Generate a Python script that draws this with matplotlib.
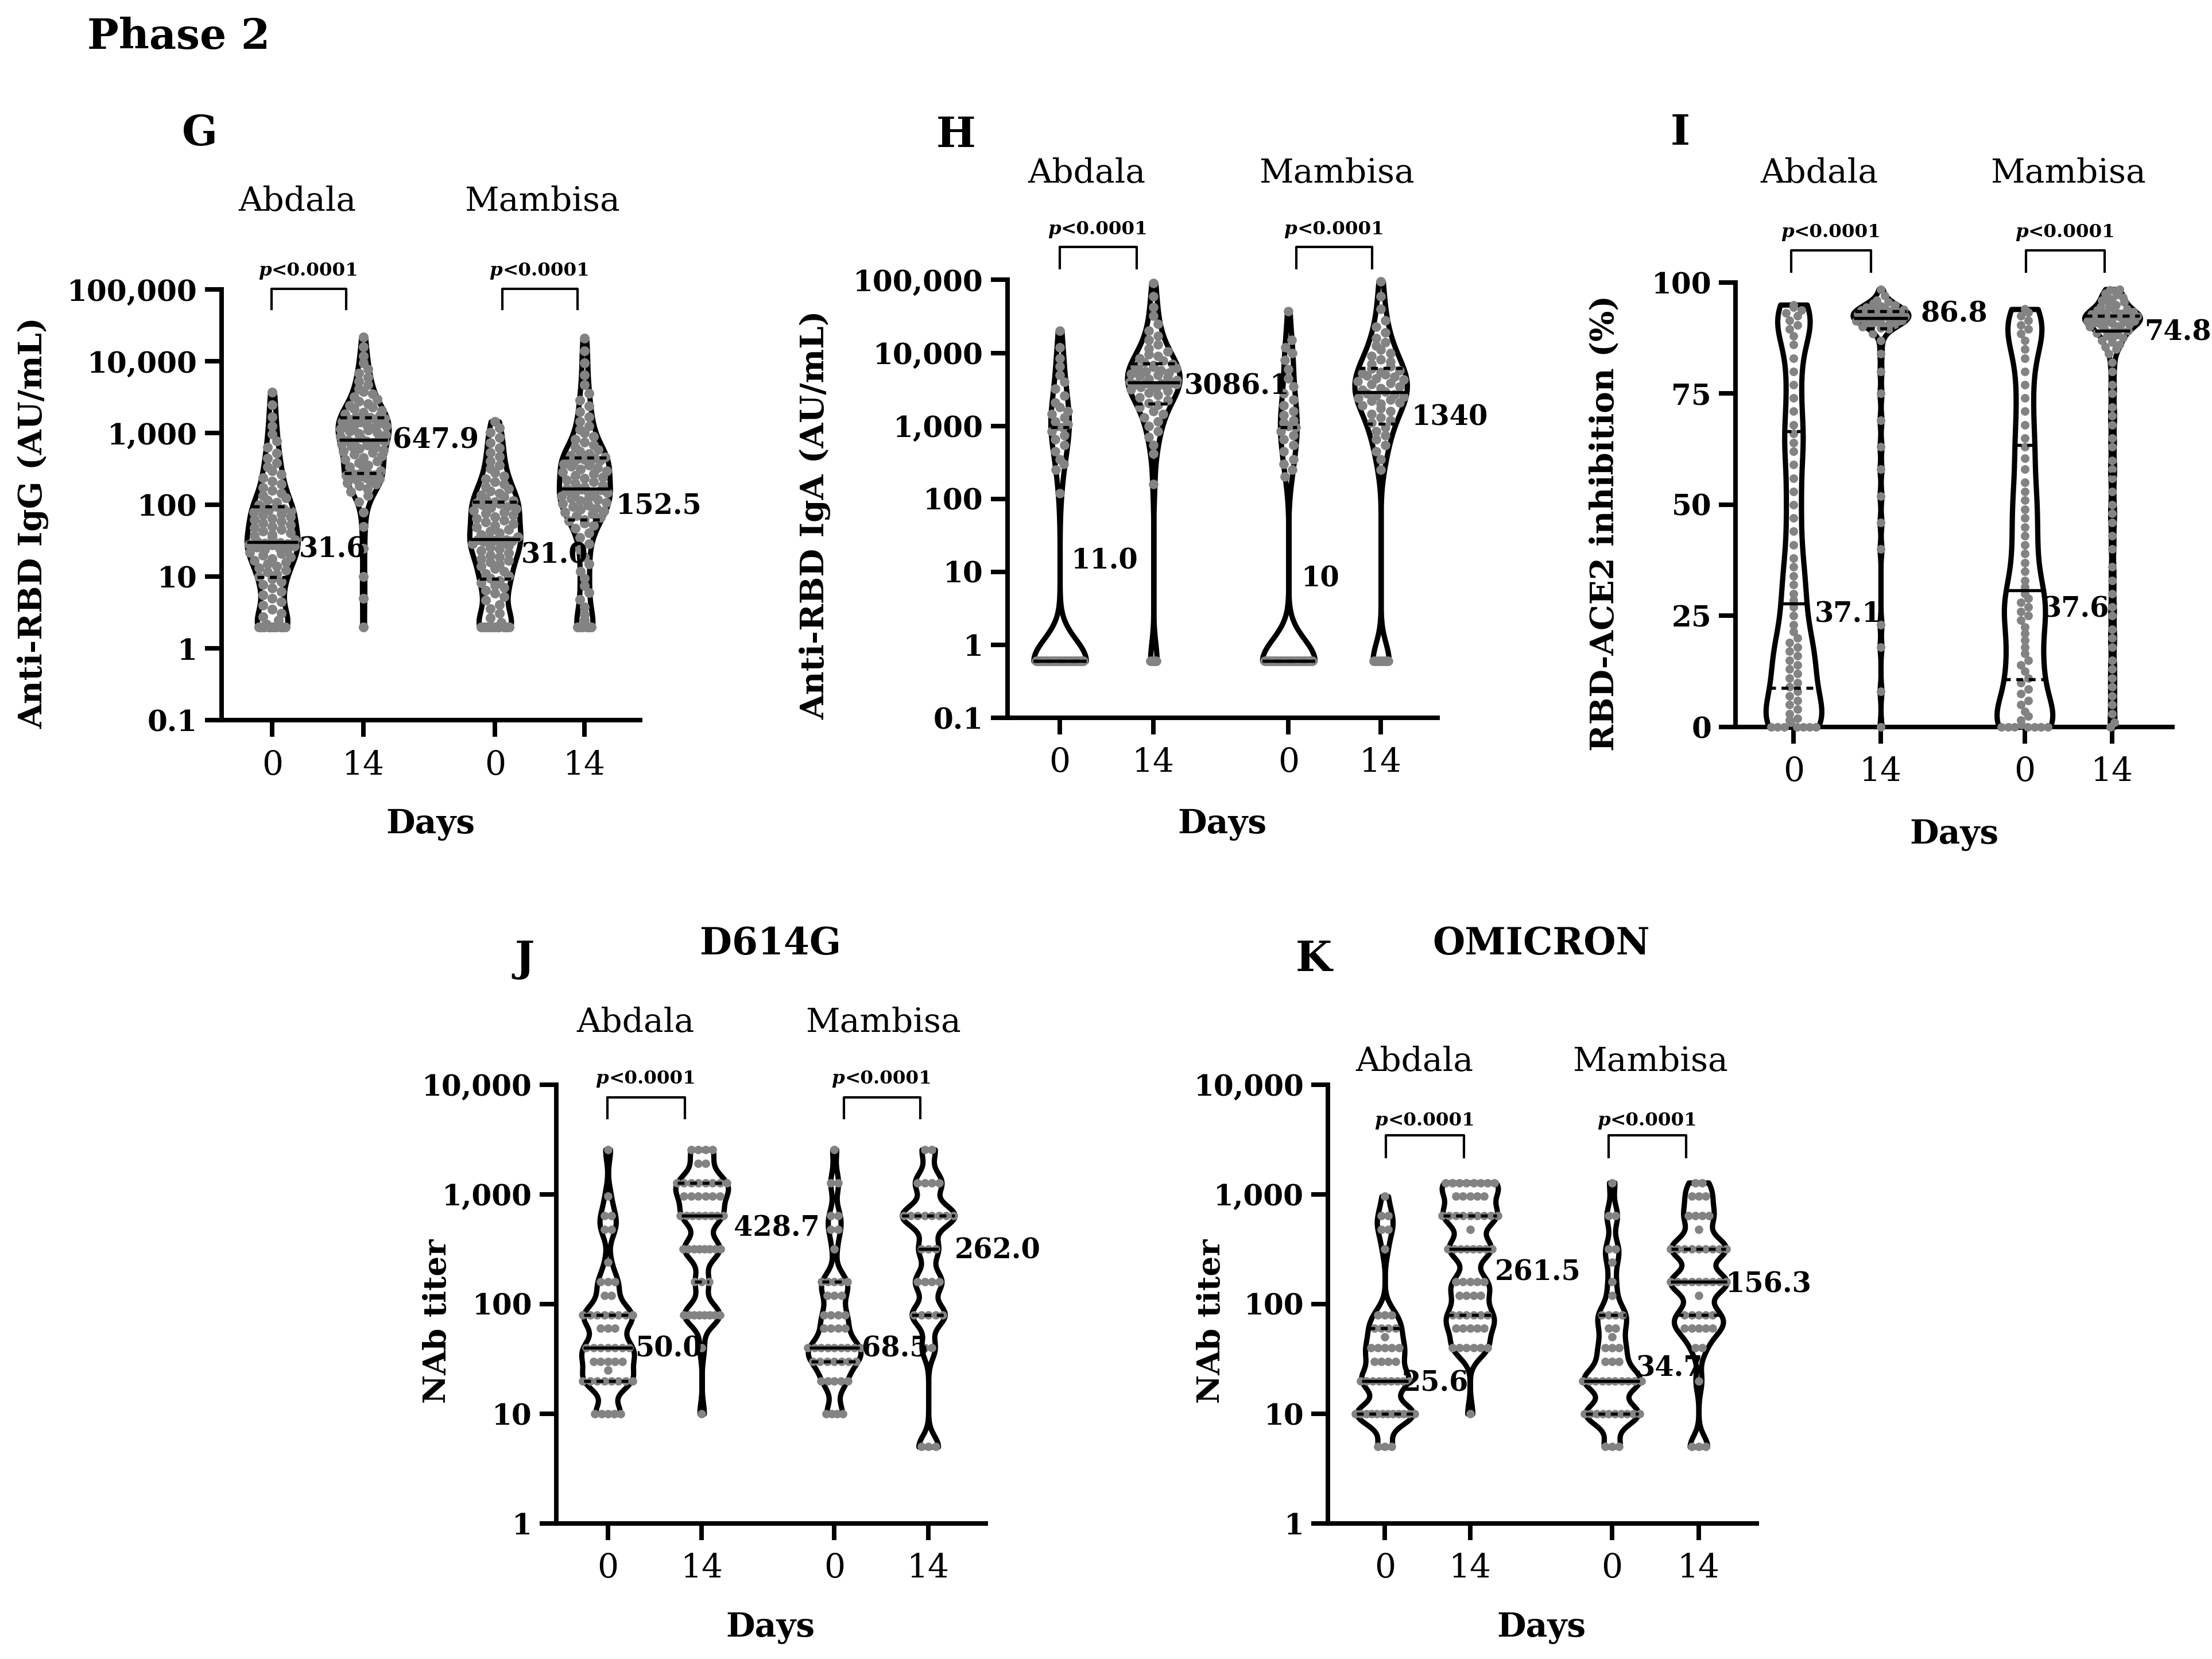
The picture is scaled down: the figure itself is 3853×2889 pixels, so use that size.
import numpy as np
import matplotlib
matplotlib.use("Agg")
import matplotlib.pyplot as plt

plt.rcParams['font.family'] = ['DejaVu Serif']

# ---------------- data ----------------
group_names = ["Abdala", "Mambisa"]
day_labels = ["0", "14", "0", "14"]

# G: Anti-RBD IgG (AU/mL)
g_ab0 = [2, 2, 2, 2, 2, 2, 2, 2, 2, 2, 2.2, 2.5, 2.8, 3.1, 3.5, 4, 4.5, 5, 5.6, 6.2, 7, 7.8, 8.6, 9.4,
         10, 10.8, 11.6, 12.4, 13.2, 14, 15, 16, 17, 18, 19, 20, 21, 22, 23, 24, 25, 26, 26.8, 27.6, 28.4, 29, 29.5, 30,
         31, 33, 35, 37, 39, 41, 43, 45.5, 48, 50.5, 53, 56, 59, 62, 65, 68.5, 72, 75.5, 79, 82.5, 86, 89, 92, 95,
         100, 108, 116, 125, 135, 147, 160, 175, 195, 215, 240, 270, 300, 340, 390, 450, 530, 640, 780, 980, 1250, 1700, 2500, 3700]
g_ab14 = [2, 5, 10, 25, 50, 80, 110, 135, 155, 170, 185, 195, 205, 215, 225, 232, 239, 245, 250, 255, 259, 263, 266, 269,
          280, 300, 320, 340, 360, 385, 410, 435, 460, 485, 510, 535, 560, 585, 610, 635, 660, 685, 710, 735, 755, 770, 785, 800,
          830, 870, 910, 950, 990, 1030, 1070, 1110, 1150, 1190, 1230, 1270, 1310, 1350, 1390, 1430, 1470, 1500, 1530, 1560, 1590, 1610, 1630, 1650,
          1700, 1780, 1870, 1960, 2060, 2170, 2300, 2450, 2600, 2800, 3000, 3250, 3500, 3800, 4200, 4700, 5300, 6000, 6800, 7800, 9500, 12000, 16000, 22000]
g_mb0 = [2, 2, 2, 2, 2, 2, 2, 2, 2, 2, 2, 2.3, 2.7, 3.1, 3.6, 4.1, 4.7, 5.3, 5.9, 6.5, 7.1, 7.7, 8.3, 8.9,
         9.5, 10.3, 11.1, 12, 13, 14, 15, 16, 17, 18, 19, 20, 21.5, 23, 24.5, 26, 27.5, 29, 30, 31, 31.8, 32.4, 32.8, 33,
         34, 36, 38.5, 41, 43.5, 46, 49, 52, 55, 58, 61, 64.5, 68, 72, 76, 80, 84, 88, 92, 96, 100, 104, 107, 110,
         115, 122, 130, 138, 147, 157, 168, 180, 195, 210, 230, 255, 285, 320, 360, 410, 470, 540, 630, 740, 870, 1020, 1200, 1450]
g_mb14 = [2, 2, 2, 2, 2, 2, 2.5, 3, 3.8, 4.8, 6, 7.5, 9.5, 12, 15, 19, 24, 29, 35, 41, 47, 52, 56, 60,
          63, 67, 71, 75, 79, 83, 87, 91, 95, 99, 104, 109, 114, 119, 124, 129, 134, 139, 144, 149, 154, 158, 162, 165,
          170, 180, 190, 200, 211, 222, 234, 246, 259, 272, 286, 300, 315, 330, 345, 360, 375, 390, 405, 418, 430, 440, 446, 450,
          465, 490, 520, 555, 595, 640, 690, 750, 820, 900, 1000, 1120, 1270, 1450, 1700, 2000, 2400, 2900, 3600, 4700, 6500, 9500, 14000, 21000]

# H: Anti-RBD IgA (AU/mL)
h_ab0 = [0.6, 0.6, 0.6, 0.6, 0.6, 0.6, 0.6, 0.6, 0.6, 0.6, 0.6, 0.6, 0.6, 0.6, 0.6, 0.6, 0.6, 0.6, 0.6,
         0.6, 0.6, 0.6, 0.6, 0.6, 0.6, 0.6, 0.6, 0.6, 0.6, 0.6, 0.6, 0.6, 0.6, 0.6, 0.6, 0.6, 0.6, 0.6,
         120, 250, 300, 350, 450, 550, 650, 750, 850, 950, 1000, 1050, 1150, 1300, 1450, 1600, 1800, 2100,
         2600, 3200, 4000, 5000, 6500, 8500, 12000, 20000]
h_ab14 = [0.6, 0.6, 0.6, 0.6, 160, 420, 550, 700, 850, 1000, 1150, 1300, 1450, 1600, 1800, 1950,
          2050, 2250, 2450, 2650, 2850, 3000, 3150, 3300, 3400, 3500, 3600, 3700, 3750, 3800, 3850, 3900,
          4000, 4200, 4400, 4600, 4800, 5000, 5200, 5400, 5600, 5800, 6000, 6200, 6400, 6600, 6800, 7000,
          7400, 7900, 8400, 9000, 9600, 10500, 11500, 13000, 15000, 17000, 20000, 25000, 32000, 42000, 60000, 90000]
h_mb0 = [0.6, 0.6, 0.6, 0.6, 0.6, 0.6, 0.6, 0.6, 0.6, 0.6, 0.6, 0.6, 0.6, 0.6, 0.6, 0.6, 0.6, 0.6, 0.6,
         0.6, 0.6, 0.6, 0.6, 0.6, 0.6, 0.6, 0.6, 0.6, 0.6, 0.6, 0.6, 0.6, 0.6, 0.6, 0.6, 0.6, 0.6, 0.6,
         200, 250, 300, 350, 450, 550, 650, 750, 850, 950, 1000, 1100, 1200, 1400, 1600, 1900, 2300, 2800,
         3500, 4500, 6000, 8000, 10000, 12000, 15000, 37000]
h_mb14 = [0.6, 0.6, 0.6, 0.6, 0.6, 0.6, 0.6, 0.6, 250, 350, 450, 550, 650, 750, 850, 950,
          1100, 1200, 1300, 1450, 1600, 1750, 1900, 2000, 2100, 2200, 2300, 2400, 2500, 2600, 2700, 2800,
          2950, 3100, 3300, 3500, 3700, 3900, 4100, 4300, 4500, 4700, 4900, 5100, 5300, 5500, 5800, 6100,
          6500, 7000, 7600, 8200, 9000, 10000, 11000, 12500, 14000, 16000, 19000, 23000, 28000, 40000, 60000, 95000]

# I: RBD-ACE2 inhibition (%)
i_ab0 = [0, 0, 0, 0, 0, 0, 0, 1, 1.5, 2, 3, 4, 5, 6, 7, 8,
         9, 10, 11, 12, 13, 14, 15, 16, 17, 18, 19, 20, 21.5, 23, 25, 27,
         28.5, 30, 32, 34, 36, 38, 41, 44, 47, 50, 53, 56, 59, 62, 64, 66,
         68, 71, 74, 77, 80, 83, 86, 88, 89.5, 90.5, 91.5, 92.5, 93.2, 93.8, 94.4, 95]
i_ab14 = [0, 8, 18, 23, 40, 46, 52, 58, 63, 69, 75, 80, 84, 87, 88.5, 89.5,
          89.8, 90, 90.2, 90.4, 90.6, 90.8, 91, 91.1, 91.2, 91.3, 91.4, 91.5, 91.6, 91.7, 91.8, 91.9,
          92, 92.1, 92.2, 92.3, 92.4, 92.5, 92.6, 92.7, 92.8, 92.9, 93, 93.1, 93.2, 93.3, 93.4, 93.5,
          93.6, 93.7, 93.8, 93.9, 94, 94.1, 94.2, 94.3, 94.5, 94.7, 95, 95.3, 95.6, 96, 97, 98.5]
i_mb0 = [0, 0, 0, 0, 0, 0, 0, 0.5, 1.5, 2.5, 3.5, 5, 6, 7.5, 8.5, 10,
         11, 12.5, 14, 15, 16.5, 18, 19.5, 21, 22.5, 24, 25, 26, 27, 28, 29, 30,
         31.5, 33, 35, 37, 39, 41, 43, 45, 47, 49, 51, 53, 55, 58, 60.5, 63,
         65, 68, 71, 74, 77, 80, 83, 85, 87, 88.5, 89.5, 90.5, 91.5, 92.5, 93.3, 94]
i_mb14 = [0, 1, 3, 5, 7, 9, 11, 13, 15, 18, 20, 22, 25, 27, 30, 33, 36, 40, 43, 46, 48, 50, 53, 56, 58,
          60, 63, 65, 68, 70, 72, 75, 77, 80, 82,
          84, 85, 85.5, 86, 86.5, 87, 87.3, 87.6, 88, 88.3, 88.6, 88.9, 89.2, 89.5, 89.8, 90, 90.2, 90.4, 90.6, 90.8,
          91, 91.1, 91.2, 91.3, 91.4, 91.5, 91.6, 91.7, 91.8, 91.9, 92, 92.1, 92.2, 92.3, 92.4, 92.5, 92.6, 92.7, 92.8, 92.9,
          93, 93.2, 93.4, 93.6, 93.8, 94, 94.3, 94.6, 95, 95.3, 95.6, 96, 96.3, 96.6, 97, 97.3, 97.6, 98, 98.3, 98.5]

# J: D614G NAb titers (titer level, number of subjects)
j_ab0_levels = [10, 20, 25, 30, 40, 60, 80, 120, 160, 240, 480, 640, 960, 2560]
j_ab0_counts = [5, 8, 1, 5, 7, 3, 8, 2, 3, 1, 2, 2, 1, 1]
j_ab14_levels = [10, 40, 80, 160, 320, 640, 960, 1280, 1920, 2560]
j_ab14_counts = [1, 1, 8, 3, 8, 8, 6, 8, 2, 4]
j_mb0_levels = [10, 20, 30, 40, 60, 80, 120, 160, 320, 480, 640, 1280, 2560]
j_mb0_counts = [4, 5, 7, 9, 4, 4, 3, 5, 1, 2, 2, 2, 1]
j_mb14_levels = [5, 40, 80, 160, 320, 640, 1280, 2560]
j_mb14_counts = [3, 2, 5, 4, 3, 8, 4, 2]

# K: OMICRON NAb titers
k_ab0_levels = [5, 10, 20, 30, 40, 50, 60, 80, 320, 480, 640, 960]
k_ab0_counts = [3, 12, 9, 4, 5, 1, 4, 3, 1, 2, 2, 1]
k_ab14_levels = [10, 40, 60, 80, 120, 160, 320, 480, 640, 960, 1280]
k_ab14_counts = [1, 6, 5, 6, 4, 5, 8, 1, 9, 5, 8]
k_mb0_levels = [5, 10, 20, 30, 40, 50, 60, 80, 120, 160, 240, 320, 640, 1280]
k_mb0_counts = [3, 10, 10, 3, 3, 1, 2, 4, 1, 1, 1, 2, 2, 1]
k_mb14_levels = [5, 20, 40, 60, 80, 120, 160, 320, 480, 640, 960, 1280]
k_mb14_counts = [3, 1, 2, 5, 5, 1, 9, 9, 1, 4, 3, 2]

# value annotations (text, x in category units, y value)
g_notes = [("647.9", 1.32, 800), ("31.6", 0.29, 24), ("31.0", 2.73, 20), ("152.5", 3.77, 95)]
h_notes = [("3086.1", 1.33, 3500), ("11.0", 0.12, 14), ("10", 2.57, 8), ("1340", 3.75, 1300)]
i_notes = [("86.8", 1.46, 92.9), ("37.1", 0.24, 25.3), ("37.6", 2.86, 26.5), ("74.8", 4.03, 88.8)]
j_notes = [("428.7", 1.34, 491), ("50.0", 0.29, 39), ("68.5", 2.70, 39), ("262.0", 3.69, 308)]
k_notes = [("261.5", 1.29, 194), ("25.6", 0.20, 19), ("34.7", 2.95, 26), ("156.3", 4.00, 150)]

p_label = "<0.0001"

log_ticks_big = [0.1, 1, 10, 100, 1000, 10000, 100000]
log_ticks_big_lbl = ["0.1", "1", "10", "100", "1,000", "10,000", "100,000"]
log_ticks_small = [1, 10, 100, 1000, 10000]
log_ticks_small_lbl = ["1", "10", "100", "1,000", "10,000"]
lin_ticks = [0, 25, 50, 75, 100]
lin_ticks_lbl = ["0", "25", "50", "75", "100"]

# ---------------- figure ----------------
W, H, DPI = 3853, 2889, 300
fig = plt.figure(figsize=(W / DPI, H / DPI), dpi=DPI)
fig.patch.set_facecolor('white')

PT_GRAY = '#838383'


def rect(l, r, t, b):
    return [l / W, 1 - b / H, (r - l) / W, (b - t) / H]


def ftext(x, y, s, **kw):
    fig.text(x / W, 1 - y / H, s, ha=kw.pop('ha', 'center'), va=kw.pop('va', 'center'), **kw)


def draw_group(ax, vals, pos, log, bw, hw, bin_h, sp, frac, ms, mincap=0.0):
    v = np.asarray(vals, dtype=float)
    t = np.log10(v) if log else v.copy()
    lo, hi = t.min(), t.max()
    grid = np.linspace(lo, hi, 600)
    dens = np.exp(-0.5 * ((grid[:, None] - t[None, :]) / bw) ** 2).sum(axis=1)
    half = dens / dens.max() * hw
    yy = 10 ** grid if log else grid
    ax.fill_betweenx(yy, pos - half, pos + half, facecolor='white', edgecolor='black',
                     linewidth=2.2, zorder=2, clip_on=False)

    def wf(tv):
        return float(np.interp(tv, grid, half))

    order = np.argsort(t, kind='stable')
    ts = t[order]
    off = np.zeros(len(t))
    n = len(ts)
    i = 0
    while i < n:
        j = i + 1
        while j < n and ts[j] - ts[i] <= bin_h:
            j += 1
        k = j - i
        if k > 1:
            cap = max(frac * wf(ts[i:j].mean()), mincap)
            span = min(cap, (k - 1) * sp / 2)
            xs = np.linspace(-span, span, k)
            perm = np.argsort((np.arange(k) * 0.618034) % 1.0)
            off[order[i:j]] = xs[perm]
        i = j
    ax.scatter(pos + off, v, s=ms, color=PT_GRAY, linewidths=0, zorder=3, clip_on=False)

    q1, med, q3 = np.percentile(v, [25, 50, 75])
    for q, ls in ((q1, (0, (2.2, 1.8))), (med, '-'), (q3, (0, (2.2, 1.8)))):
        tq = np.log10(q) if log else q
        w = wf(tq)
        ax.plot([pos - w, pos + w], [q, q], color='black', lw=1.3, ls=ls, zorder=4,
                solid_capstyle='butt', dash_capstyle='butt', clip_on=False)


def style(ax, xlim, pos, log, ylim, yt, ytl):
    ax.set_facecolor('none')
    if log:
        ax.set_yscale('log')
    ax.set_xlim(*xlim)
    ax.set_ylim(*ylim)
    for s in ('top', 'right'):
        ax.spines[s].set_visible(False)
    for s in ('left', 'bottom'):
        ax.spines[s].set_linewidth(1.9)
    ax.set_yticks(yt)
    ax.set_yticklabels(ytl, fontweight='bold', fontsize=12)
    ax.minorticks_off()
    ax.set_xticks(pos)
    ax.set_xticklabels(day_labels, fontsize=14)
    ax.tick_params(axis='both', which='major', length=7, width=1.9, direction='out')
    ax.tick_params(axis='y', pad=3)
    ax.tick_params(axis='x', pad=5)


def bracket(ax, x0, x1, yt, yb, yp):
    ax.plot([x0, x0, x1, x1], [yb, yt, yt, yb], color='black', lw=1.0, clip_on=False, zorder=5)
    xc = (x0 + x1) / 2
    ax.annotate('p', (xc, yp), xytext=(-15.6, 0), textcoords='offset points', ha='right', va='center',
                fontsize=7.8, fontweight='bold', fontstyle='italic', annotation_clip=False)
    ax.annotate(p_label, (xc, yp), xytext=(-15.6, 0), textcoords='offset points', ha='left', va='center',
                fontsize=7.8, fontweight='bold', annotation_clip=False)


def notes(ax, lst):
    for s, x, y in lst:
        ax.text(x, y, s, ha='left', va='center', fontsize=11.5, fontweight='bold', zorder=6, clip_on=False)


panels = [
    dict(rect=rect(385.5, 1115, 504.5, 1254.5), pos=[0, 1, 2.446, 3.43], xlim=(-0.56, 4.04), log=True,
         ylim=(0.1, 1e5), yt=log_ticks_big, ytl=log_ticks_big_lbl,
         data=[g_ab0, g_ab14, g_mb0, g_mb14], bw=[0.2, 0.2, 0.2, 0.2], hw=0.28,
         swarm=dict(bin_h=0.1, sp=0.1, frac=0.9, ms=17),
         br=[(-0.01, 0.81), (2.526, 3.352)], byt=1.03e5, byb=5.4e4, byp=1.85e5, notes=g_notes),
    dict(rect=rect(1754.6, 2504, 487.5, 1250), pos=[0, 1, 2.44, 3.425], xlim=(-0.56, 4.03), log=True,
         ylim=(0.1, 1e5), yt=log_ticks_big, ytl=log_ticks_big_lbl,
         data=[h_ab0, h_ab14, h_mb0, h_mb14], bw=[0.3, 0.25, 0.3, 0.25], hw=0.28,
         swarm=dict(bin_h=0.1, sp=0.1, frac=0.9, ms=16),
         br=[(0.0, 0.82), (2.525, 3.333)], byt=2.86e5, byb=1.45e5, byp=4.9e5, notes=h_notes),
    dict(rect=rect(3022.7, 3784, 492, 1266), pos=[0, 1, 2.653, 3.66], xlim=(-0.67, 4.35), log=False,
         ylim=(0, 100), yt=lin_ticks, ytl=lin_ticks_lbl,
         data=[i_ab0, i_ab14, i_mb0, i_mb14], bw=[5.0, 1.5, 5.0, 1.6], hw=0.32,
         swarm=dict(bin_h=1.4, sp=0.09, frac=0.9, ms=13),
         br=[(-0.03, 0.89), (2.668, 3.573)], byt=107.2, byb=102.5, byp=111.3, notes=i_notes),
    dict(rect=rect(968.7, 1717, 1889, 2653), pos=[0, 1, 2.41, 3.41], xlim=(-0.55, 4.02), log=True,
         ylim=(1, 1e4), yt=log_ticks_small, ytl=log_ticks_small_lbl,
         data=[np.repeat(j_ab0_levels, j_ab0_counts), np.repeat(j_ab14_levels, j_ab14_counts),
               np.repeat(j_mb0_levels, j_mb0_counts), np.repeat(j_mb14_levels, j_mb14_counts)],
         bw=[0.1, 0.1, 0.1, 0.1], hw=0.28,
         swarm=dict(bin_h=0.001, sp=0.076, frac=1.05, ms=12.5, mincap=0.04),
         br=[(-0.007, 0.82), (2.509, 3.325)], byt=7670, byb=4970, byp=11300, notes=j_notes),
    dict(rect=rect(2313, 3060, 1889, 2653), pos=[0, 1, 2.668, 3.687], xlim=(-0.67, 4.37), log=True,
         ylim=(1, 1e4), yt=log_ticks_small, ytl=log_ticks_small_lbl,
         data=[np.repeat(k_ab0_levels, k_ab0_counts), np.repeat(k_ab14_levels, k_ab14_counts),
               np.repeat(k_mb0_levels, k_mb0_counts), np.repeat(k_mb14_levels, k_mb14_counts)],
         bw=[0.1, 0.1, 0.1, 0.1], hw=0.33,
         swarm=dict(bin_h=0.001, sp=0.082, frac=1.05, ms=12.5, mincap=0.04),
         br=[(0.014, 0.928), (2.63, 3.543)], byt=3460, byb=2190, byp=4730, notes=k_notes),
]

for P in panels:
    ax = fig.add_axes(P['rect'])
    style(ax, P['xlim'], P['pos'], P['log'], P['ylim'], P['yt'], P['ytl'])
    for vals, pos, bw in zip(P['data'], P['pos'], P['bw']):
        draw_group(ax, vals, pos, P['log'], bw, P['hw'], **P['swarm'])
    for (x0, x1) in P['br']:
        bracket(ax, x0, x1, P['byt'], P['byb'], P['byp'])
    notes(ax, P['notes'])

# ---------------- figure-level text ----------------
ftext(152, 64, "Phase 2", fontsize=17.5, fontweight='bold', ha='left')

for letter, x, y in (("G", 348, 232), ("H", 1665, 235), ("I", 2927, 232), ("J", 914, 1670), ("K", 2288, 1670)):
    ftext(x, y, letter, fontsize=17.5, fontweight='bold')

ftext(1342, 1644, "D614G", fontsize=15.5, fontweight='bold')
ftext(2685, 1644, "OMICRON", fontsize=15.5, fontweight='bold')

for (xa, xm, y) in ((518, 945, 351), (1893, 2328, 302), (3169, 3602, 302), (1107, 1538, 1781), (2464, 2874, 1849)):
    ftext(xa, y, group_names[0], fontsize=14)
    ftext(xm, y, group_names[1], fontsize=14)

for (x, y) in ((750, 1436), (2129, 1436), (3404, 1454), (1342, 2835), (2685, 2835)):
    ftext(x, y, "Days", fontsize=14, fontweight='bold')

ftext(58, 911, "Anti-RBD IgG (AU/mL)", fontsize=13.5, fontweight='bold', rotation=90)
ftext(1420, 897, "Anti-RBD IgA (AU/mL)", fontsize=13.5, fontweight='bold', rotation=90)
ftext(2795, 911, "RBD-ACE2 inhibition (%)", fontsize=13.5, fontweight='bold', rotation=90)
ftext(762, 2301, "NAb titer", fontsize=13.2, fontweight='bold', rotation=90)
ftext(2110, 2301, "NAb titer", fontsize=13.2, fontweight='bold', rotation=90)

fig.savefig("out.png", dpi=DPI, facecolor='white')
